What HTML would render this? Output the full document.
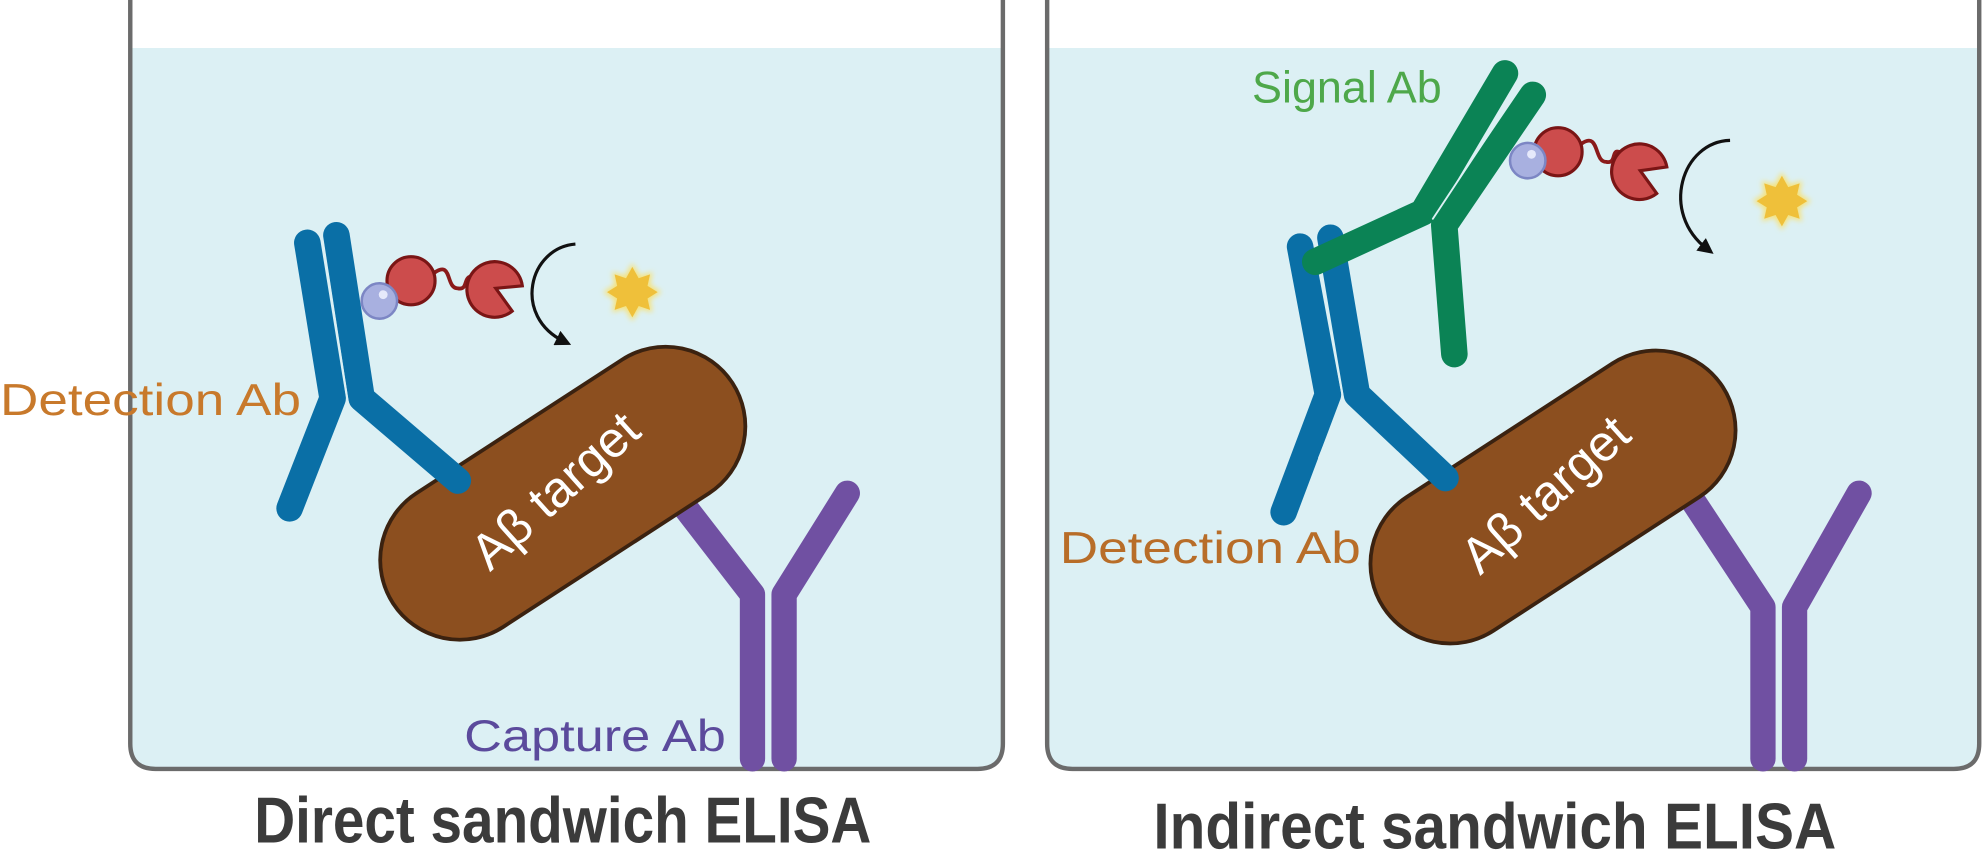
<!DOCTYPE html>
<html><head><meta charset="utf-8"><style>html,body{margin:0;padding:0;background:#fff}svg{display:block}</style></head>
<body>
<svg width="1983" height="852" viewBox="0 0 1568 673.7" preserveAspectRatio="none" xmlns="http://www.w3.org/2000/svg">
<defs>
<filter id="glow"><feGaussianBlur stdDeviation="2"/></filter>
<marker id="ah" viewBox="0 0 10 10" refX="5" refY="5" markerWidth="5" markerHeight="5" orient="auto"><path d="M0,0 L10,5 L0,10 z" fill="#111"/></marker>
</defs>
<!-- wells -->
<path d="M103,38 L103,588 Q103,608 123,608 L773,608 Q793,608 793,588 L793,38 Z" fill="#dcf0f4"/>
<path d="M103,0 L103,588 Q103,608 123,608 L773,608 Q793,608 793,588 L793,0" fill="none" stroke="#6b6b6b" stroke-width="3.5"/>
<path d="M828,38 L828,588 Q828,608 848,608 L1545,608 Q1565,608 1565,588 L1565,38 Z" fill="#dcf0f4"/>
<path d="M828,0 L828,588 Q828,608 848,608 L1545,608 Q1565,608 1565,588 L1565,0" fill="none" stroke="#6b6b6b" stroke-width="3.5"/>

<g stroke-linecap="round" stroke-linejoin="round" fill="none">
<polyline points="537,395 595,470 595,600" stroke="#7050a2" stroke-width="20"/>
<polyline points="670,390 620,470 620,600" stroke="#7050a2" stroke-width="20"/>
<line x1="607.5" y1="478" x2="607.5" y2="602" stroke="#dcf0f4" stroke-width="2"/>
<polyline points="1338,395 1394,480 1394,600" stroke="#7050a2" stroke-width="20"/>
<polyline points="1470,390 1419,480 1419,600" stroke="#7050a2" stroke-width="20"/>
<line x1="1406.5" y1="488" x2="1406.5" y2="602" stroke="#dcf0f4" stroke-width="2"/>
</g>

<!-- left pill -->
<g transform="translate(445,390) rotate(-33)">
<rect x="-160" y="-63" width="320" height="126" rx="63" fill="#8c4f1f" stroke="#3b2210" stroke-width="3"/>
</g>
<text transform="translate(448,398) rotate(-42)" text-anchor="middle" font-family="Liberation Sans, sans-serif" font-size="40" fill="#fff">Aβ target</text>
<!-- right pill -->
<g transform="translate(1228,393) rotate(-33)">
<rect x="-160" y="-63" width="320" height="126" rx="63" fill="#8c4f1f" stroke="#3b2210" stroke-width="3"/>
</g>
<text transform="translate(1231,401) rotate(-42)" text-anchor="middle" font-family="Liberation Sans, sans-serif" font-size="40" fill="#fff">Aβ target</text>

<g stroke-linecap="round" stroke-linejoin="round" fill="none">
<polyline points="243,192 263,315 229,402" stroke="#0a6fa6" stroke-width="21"/>
<polyline points="266,186 286,315 362,380" stroke="#0a6fa6" stroke-width="21"/>
<polyline points="255,190 275,318 255,370" stroke="#dcf0f4" stroke-width="1.5"/>
<polyline points="1028,195 1050,312 1015,405" stroke="#0a6fa6" stroke-width="21"/>
<polyline points="1052,188 1073,312 1143,378" stroke="#0a6fa6" stroke-width="21"/>
<polyline points="1040,192 1062,315 1043,362" stroke="#dcf0f4" stroke-width="1.5"/>
<polyline points="1040,207 1125,168 1190,58" stroke="#0b8355" stroke-width="21"/>
<polyline points="1212,75 1142,178 1150,280" stroke="#0b8355" stroke-width="21"/>
<line x1="1201" y1="70" x2="1133" y2="173" stroke="#dcf0f4" stroke-width="1.5"/>
</g>

<!-- left enzyme -->
<path d="M343,216 C358,205 352,228 362,228 C372,230 364,214 378,220" fill="none" stroke="#8a1a1a" stroke-width="3"/>
<circle cx="325" cy="222" r="19" fill="#cc4c4c" stroke="#7a1515" stroke-width="2.5"/>
<path d="M392,228 L413,226 A22,22 0 1 0 405,246 Z" fill="#cc4c4c" stroke="#7a1515" stroke-width="2.5"/>
<circle cx="300" cy="238" r="14" fill="#a8b0e0" stroke="#7c86c4" stroke-width="2"/>
<circle cx="303" cy="233" r="3.5" fill="#e6e9fb"/>
<path d="M455,193 C418,196 405,250 446,270" fill="none" stroke="#111" stroke-width="2.5" marker-end="url(#ah)"/>
<g transform="translate(500,231)">
<polygon points="0,-23 6,-13 16,-16 14,-6 23,0 14,6 16,16 6,13 0,23 -6,13 -16,16 -14,6 -23,0 -14,-6 -16,-16 -6,-13" fill="#f6e27a" filter="url(#glow)"/>
<polygon points="0,-20 5,-11 14,-14 12,-5 20,0 12,5 14,14 5,11 0,20 -5,11 -14,14 -12,5 -20,0 -12,-5 -14,-14 -5,-11" fill="#efc03a"/>
</g>

<!-- right enzyme -->
<path d="M1250,114 C1265,103 1260,128 1270,128 C1280,130 1272,114 1284,122" fill="none" stroke="#8a1a1a" stroke-width="3"/>
<circle cx="1232" cy="120" r="19" fill="#cc4c4c" stroke="#7a1515" stroke-width="2.5"/>
<path d="M1297,135 L1318,132 A22,22 0 1 0 1310,153 Z" fill="#cc4c4c" stroke="#7a1515" stroke-width="2.5"/>
<circle cx="1208" cy="127" r="14" fill="#a8b0e0" stroke="#7c86c4" stroke-width="2"/>
<circle cx="1211" cy="122" r="3.5" fill="#e6e9fb"/>
<path d="M1368,111 C1330,112 1312,168 1350,197" fill="none" stroke="#111" stroke-width="2.5" marker-end="url(#ah)"/>
<g transform="translate(1409,159)">
<polygon points="0,-23 6,-13 16,-16 14,-6 23,0 14,6 16,16 6,13 0,23 -6,13 -16,16 -14,6 -23,0 -14,-6 -16,-16 -6,-13" fill="#f6e27a" filter="url(#glow)"/>
<polygon points="0,-20 5,-11 14,-14 12,-5 20,0 12,5 14,14 5,11 0,20 -5,11 -14,14 -12,5 -20,0 -12,-5 -14,-14 -5,-11" fill="#efc03a"/>
</g>

<!-- labels -->
<g font-family="Liberation Sans, sans-serif" font-size="35">
<text x="0" y="328" fill="#c8792b" textLength="238" lengthAdjust="spacingAndGlyphs">Detection Ab</text>
<text x="367" y="594" fill="#5b4a9c" textLength="207" lengthAdjust="spacingAndGlyphs">Capture Ab</text>
<text x="990" y="81" fill="#4ea84a" textLength="150" lengthAdjust="spacingAndGlyphs">Signal Ab</text>
<text x="838" y="445" fill="#b86d28" textLength="238" lengthAdjust="spacingAndGlyphs">Detection Ab</text>
</g>
<g font-family="Liberation Sans, sans-serif" font-size="51" font-weight="bold" fill="#3b3b3b">
<text x="201" y="666" textLength="488" lengthAdjust="spacingAndGlyphs">Direct sandwich ELISA</text>
<text x="912" y="671" textLength="540" lengthAdjust="spacingAndGlyphs">Indirect sandwich  ELISA</text>
</g>
</svg>
</body></html>
